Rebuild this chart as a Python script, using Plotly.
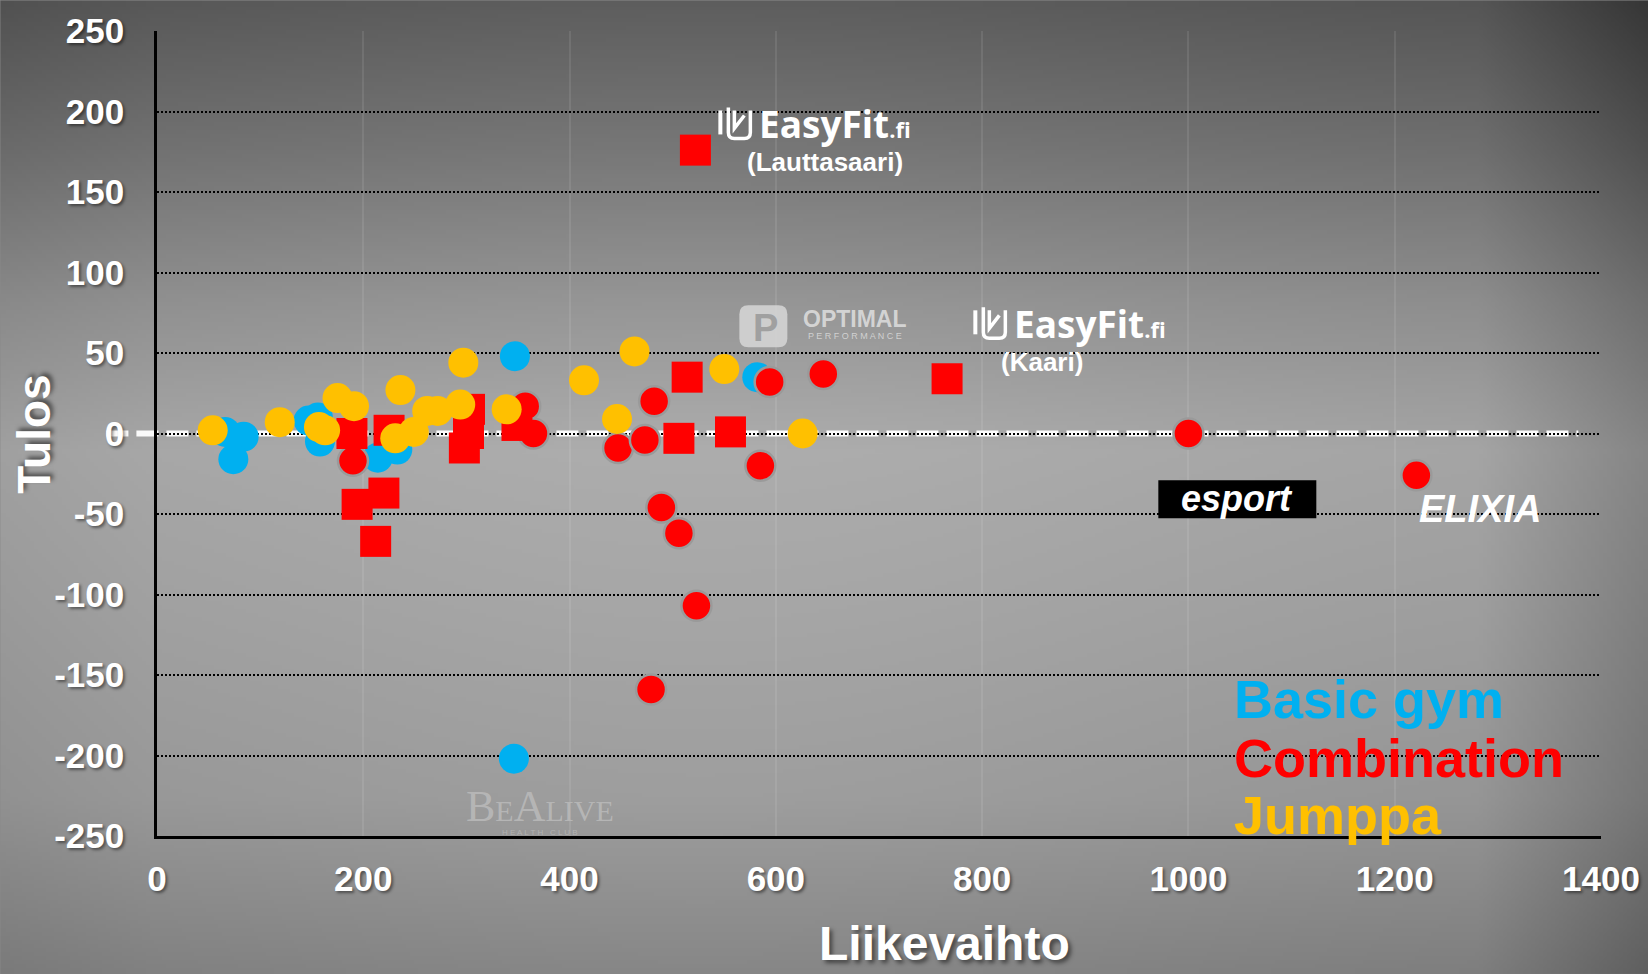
import base64, struct, zlib
import numpy as np
import plotly.graph_objects as go

# ---------------- data ----------------
basic_x = [66, 84, 74, 147, 156, 158, 214, 233, 347, 582, 346]
basic_y = [1, -2, -16, 8, 10, -5, -15, -10, 48, 35, -202]

comb_circle_x = [190, 357, 365, 482, 447, 473, 594, 646, 585, 489, 506, 523, 479, 1000, 1221]
comb_circle_y = [-17, 17, 0, 20, -9, -4, 32, 37, -20, -46, -62, -107, -159, 0, -26]

comb_square_x = [189, 225, 220, 194, 212, 303, 302, 298, 349, 514, 506, 556, 522, 766]
comb_square_y = [0, 2, -37, -44, -67, 15, 0, -9, 5, 35, -3, 1, 176, 34]

jumppa_x = [54, 119, 157, 163, 175, 191, 236, 231, 249, 262, 272, 297, 294, 339, 414, 463, 446, 550, 626]
jumppa_y = [2, 7, 4, 2, 22, 17, 27, -3, 1, 14, 14, 44, 18, 15, 33, 51, 9, 40, 0]

x_ticks = [0, 200, 400, 600, 800, 1000, 1200, 1400]
y_ticks = [250, 200, 150, 100, 50, 0, -50, -100, -150, -200, -250]
y_tick_text = [str(v) for v in y_ticks]
x_range = [0, 1400]
y_range = [-250, 250]

legend_names = ["Basic gym", "Combination", "Jumppa"]
BLUE, RED, YELLOW = "#00B0F0", "#FF0000", "#FFC000"
legend_colors = [BLUE, RED, YELLOW]

# ---------------- geometry ----------------
WIDTH, HEIGHT = 1648, 974
ML, MR, MT, MB = 156.6, 47.3, 30.5, 138.0
PW = WIDTH - ML - MR
PH = HEIGHT - MT - MB


def px(X):
    return (X - ML) / PW


def py(Y):
    return (HEIGHT - MB - Y) / PH


# ---------------- background image ----------------
def make_bg(w=412, h=244):
    X = np.linspace(0, WIDTH, w)[None, :]
    Y = np.linspace(0, HEIGHT, h)[:, None]
    prof_y = [0, 150, 300, 450, 600, 800, 974]
    prof_v = [84, 110, 140, 163, 157, 148, 125]
    v = np.interp(Y, prof_y, prof_v) + 0 * X
    v = v + 10 * np.exp(-((X - 700) / 600.0) ** 2)
    v = v - 30 * np.clip((X - 1480) / 168.0, 0, 1)
    v = v - 5 * np.clip((150 - X) / 150.0, 0, 1)
    arr = np.clip(v, 0, 255).astype(np.uint8)
    raw = b"".join(b"\x00" + arr[i].tobytes() for i in range(h))

    def chunk(t, d):
        c = struct.pack(">I", len(d)) + t + d
        return c + struct.pack(">I", zlib.crc32(t + d) & 0xFFFFFFFF)

    png = b"\x89PNG\r\n\x1a\n" + chunk(b"IHDR", struct.pack(">IIBBBBB", w, h, 8, 0, 0, 0, 0)) \
        + chunk(b"IDAT", zlib.compress(raw, 9)) + chunk(b"IEND", b"")
    return "data:image/png;base64," + base64.b64encode(png).decode()


fig = go.Figure()

fig.add_trace(go.Scatter(x=basic_x, y=basic_y, mode="markers", name=legend_names[0],
                         marker=dict(symbol="circle", size=30, color=BLUE, line=dict(width=0))))
fig.add_trace(go.Scatter(x=comb_circle_x, y=comb_circle_y, mode="markers", name=legend_names[1],
                         marker=dict(symbol="circle", size=30, color=RED,
                                     line=dict(width=2.5, color="#9a9a9a"))))
fig.add_trace(go.Scatter(x=comb_square_x, y=comb_square_y, mode="markers", name=legend_names[1] + " sq",
                         marker=dict(symbol="square", size=31, color=RED, line=dict(width=0))))
fig.add_trace(go.Scatter(x=jumppa_x, y=jumppa_y, mode="markers", name=legend_names[2],
                         marker=dict(symbol="circle", size=30, color=YELLOW, line=dict(width=0))))

shadow = "2px 2px 3px rgba(0,0,0,0.45)"
tickfont = dict(family="Liberation Sans", size=35, color="white", weight="bold", shadow=shadow)

fig.update_layout(
    width=WIDTH, height=HEIGHT,
    margin=dict(l=ML, r=MR, t=MT, b=MB, autoexpand=False),
    paper_bgcolor="#8a8a8a",
    plot_bgcolor="rgba(0,0,0,0)",
    showlegend=False,
    xaxis=dict(range=x_range, tickvals=x_ticks, ticktext=[str(v) for v in x_ticks],
               showgrid=True, gridcolor="rgba(255,255,255,0.09)", gridwidth=1.5,
               showline=True, linecolor="black", linewidth=2.5, zeroline=False,
               ticks="", tickfont=tickfont, ticklabelstandoff=10, fixedrange=True),
    yaxis=dict(range=y_range, tickvals=y_ticks, ticktext=y_tick_text,
               showgrid=True, gridcolor="black", gridwidth=2, griddash="2px,2px",
               showline=True, linecolor="black", linewidth=2.5, zeroline=False,
               ticks="", tickfont=tickfont, ticklabelstandoff=23, fixedrange=True),
    images=[dict(source=make_bg(), xref="paper", yref="paper",
                 x=px(0), y=py(0), sizex=WIDTH / PW, sizey=HEIGHT / PH,
                 xanchor="left", yanchor="top", sizing="stretch", layer="below")],
)

# white dashed zero line (behind the dotted grid)
zero_p = (0 - y_range[0]) / (y_range[1] - y_range[0])
shapes = [dict(type="line", xref="paper", yref="paper", x0=px(106), x1=px(1578), y0=zero_p, y1=zero_p,
               line=dict(color="rgba(255,255,255,0.95)", width=6, dash="22px,8px"), layer="below")]

annotations = []


def ann(text, X, Y, size, color="white", family="Liberation Sans", xanchor="center",
        yanchor="middle", bold=True, italic=False, textangle=0, sh=None):
    annotations.append(dict(text=text, x=px(X), y=py(Y), xref="paper", yref="paper",
                            xanchor=xanchor, yanchor=yanchor, showarrow=False, textangle=textangle,
                            font=dict(family=family, size=size, color=color,
                                      weight="bold" if bold else "normal",
                                      style="italic" if italic else "normal",
                                      shadow=sh if sh else "none")))


# axis titles
ann("Tulos", 34, 434, 46, textangle=-90, sh="3px 3px 4px rgba(0,0,0,0.5)")
ann("Liikevaihto", 944, 944, 48, sh="3px 3px 4px rgba(0,0,0,0.5)")

# category labels
for name, col, yc in zip(legend_names, legend_colors, [699, 758, 815]):
    ann(name, 1232, yc, 54, color=col, xanchor="left")


# EasyFit logos
def easyfit(ix, iy, sub, sub_x, sub_y):
    x0, x1, y0, y1 = ix, ix + 30, iy, iy + 31
    shapes.append(dict(type="path", xref="paper", yref="paper",
                       path=f"M {px(x0)},{py(y0 + 3)} L {px(x0)},{py(y1 - 4)}",
                       line=dict(color="white", width=4)))
    shapes.append(dict(type="path", xref="paper", yref="paper",
                       path=(f"M {px(x0 + 8)},{py(y0)} L {px(x0 + 8)},{py(y1 - 6)} "
                             f"Q {px(x0 + 8)},{py(y1)} {px(x0 + 14)},{py(y1)} "
                             f"L {px(x1 - 6)},{py(y1)} Q {px(x1)},{py(y1)} {px(x1)},{py(y1 - 6)} "
                             f"L {px(x1)},{py(y0 + 3)} M {px(x0 + 14)},{py(y0 + 3)} "
                             f"L {px(x0 + 14)},{py(y1 - 10)} L {px(x1 - 6)},{py(y0 + 8)}"),
                       line=dict(color="white", width=3.5)))
    ann("EasyFit<span style='font-size:22px'>.fi</span>", ix + 37, iy + 16, 37,
        family="Open Sans", xanchor="left")
    ann(sub, sub_x, sub_y, 26)


easyfit(720, 107, "(Lauttasaari)", 825, 162)
easyfit(975, 307, "(Kaari)", 1042, 362)

# Optimal Performance logo
ox0, ox1, oy0, oy1, r = 739, 787, 305, 347, 9
shapes.append(dict(type="path", xref="paper", yref="paper",
                   path=(f"M {px(ox0 + r)},{py(oy0)} L {px(ox1 - r)},{py(oy0)} Q {px(ox1)},{py(oy0)} {px(ox1)},{py(oy0 + r)} "
                         f"L {px(ox1)},{py(oy1 - r)} Q {px(ox1)},{py(oy1)} {px(ox1 - r)},{py(oy1)} "
                         f"L {px(ox0 + r)},{py(oy1)} Q {px(ox0)},{py(oy1)} {px(ox0)},{py(oy1 - r)} "
                         f"L {px(ox0)},{py(oy0 + r)} Q {px(ox0)},{py(oy0)} {px(ox0 + r)},{py(oy0)} Z"),
                   fillcolor="rgba(215,215,215,0.85)", line=dict(width=0)))
ann("P", 765, 328, 38, color="#a0a0a0")
ann("OPTIMAL", 855, 319, 23, color="rgba(220,220,220,0.9)")
ann("P E R F O R M A N C E", 855, 336, 9, color="rgba(220,220,220,0.85)", bold=False)

# BeAlive logo
ann("B<span style='font-size:30px'>E</span>A<span style='font-size:30px'>LIVE</span>", 540, 806, 44,
    color="rgba(185,185,185,0.9)", family="Liberation Serif", bold=False)
ann("H E A L T H   C L U B", 540, 832, 8, color="rgba(185,185,185,0.8)", bold=False)

# esport logo
shapes.append(dict(type="rect", xref="paper", yref="paper", x0=px(1158), x1=px(1316),
                   y0=py(480), y1=py(518), fillcolor="black", line=dict(width=0)))
ann("esport", 1237, 498, 36, italic=True)

# ELIXIA logo
ann("ELIXIA", 1480, 509, 38, italic=True)

fig.update_layout(shapes=shapes, annotations=annotations)

fig.write_html("out.html")
